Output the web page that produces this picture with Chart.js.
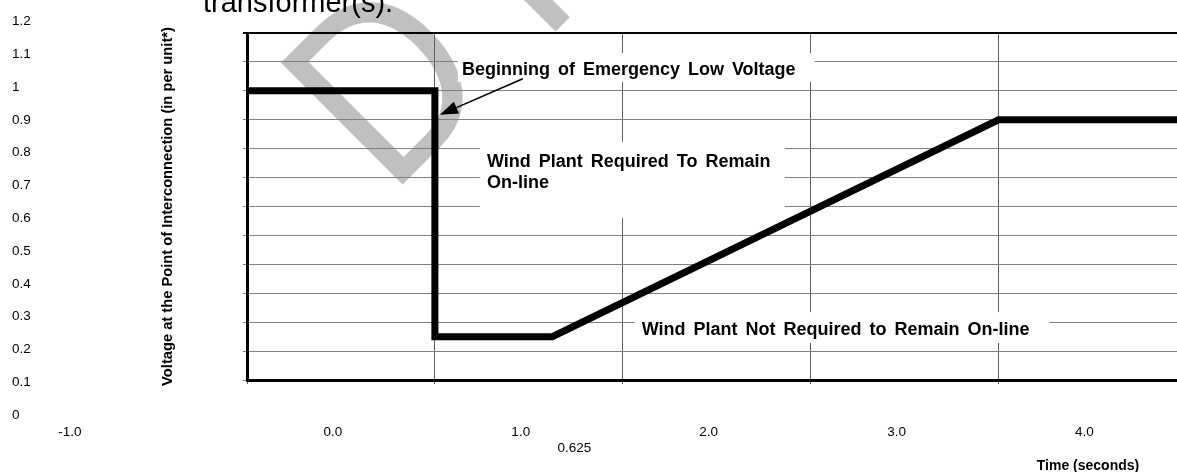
<!DOCTYPE html>
<html>
<head>
<meta charset="utf-8">
<script src="https://cdn.jsdelivr.net/npm/chart.js@4.4.0/dist/chart.umd.min.js"></script>
<style>
    html, body { margin: 0; padding: 0; background: #fff; }
    #wrap { width: 1177px; height: 472px; position: relative; }
</style>
</head>
<body>
<div id="wrap"><canvas id="lvrt-chart"></canvas></div>
<script>
(function () {
    'use strict';

    // corners of the low voltage ride-through curve
    var times = [-1, 0, 0, 0.625, 3, 3.95];
    var volts = [1.0, 1.0, 0.15, 0.15, 0.9, 0.9];

    // tick labels printed around the plot
    var xTickValues = [-1, 0, 1, 2, 3, 4];
    var xTickLabels = ['-1.0', '0.0', '1.0', '2.0', '3.0', '4.0'];
    var yTickValues = [0, 0.1, 0.2, 0.3, 0.4, 0.5, 0.6, 0.7, 0.8, 0.9, 1.0, 1.1, 1.2];
    var yTickLabels = ['0', '0.1', '0.2', '0.3', '0.4', '0.5', '0.6', '0.7', '0.8', '0.9', '1', '1.1', '1.2'];
    var extraTime = 0.625;
    var extraTimeLabel = '0.625';

    var FONT = '"Liberation Sans", Arial, sans-serif';

    var points = [];
    for (var i = 0; i < times.length; i++) {
        points.push({ x: times[i], y: volts[i] });
    }

    // text boxes on the plot, placed in axis units
    var notes = [
        { box: [0.122, 1.131, 2.021, 1.031], at: [0.144, 1.055], lines: ['Beginning of Emergency Low Voltage'] },
        { box: [0.239, 0.824, 1.862, 0.561], at: [0.277, 0.737], lines: ['Wind Plant Required To Remain', 'On-line'] },
        { box: [1.064, 0.235, 3.271, 0.128], at: [1.101, 0.156], lines: ['Wind Plant Not Required to Remain On-line'] }
    ];
    var arrow = { from: [0.468, 1.042], to: [0.027, 0.917] };

    var decor = {
        id: 'decor',
        beforeDraw: function (chart) {
            // faint DRAFT watermark behind the page
            var ctx = chart.ctx;
            ctx.save();
            ctx.translate(390, 197);
            ctx.rotate(-Math.PI / 4);
            ctx.scale(0.865, 1);
            ctx.fillStyle = '#c0c0c0';
            ctx.font = '250px ' + FONT;
            ctx.textBaseline = 'alphabetic';
            var x = 0;
            'DRAFT'.split('').forEach(function (ch) {
                ctx.fillText(ch, x, 0);
                x += ctx.measureText(ch).width + 69.5;
            });
            ctx.restore();

            // tail of the sentence above the figure
            ctx.save();
            ctx.fillStyle = '#000';
            ctx.font = '29px ' + FONT;
            ctx.textBaseline = 'alphabetic';
            ctx.fillText('transformer(s).', 203, 12);
            ctx.restore();
        },
        afterDatasetsDraw: function (chart) {
            var ctx = chart.ctx;
            var xs = chart.scales.x;
            var ys = chart.scales.y;

            ctx.save();
            notes.forEach(function (n) {
                var x0 = xs.getPixelForValue(n.box[0]);
                var y0 = ys.getPixelForValue(n.box[1]);
                var x1 = xs.getPixelForValue(n.box[2]);
                var y1 = ys.getPixelForValue(n.box[3]);
                ctx.fillStyle = '#fff';
                ctx.fillRect(x0, y0, x1 - x0, y1 - y0);
            });

            ctx.fillStyle = '#000';
            ctx.font = 'bold 18px ' + FONT;
            ctx.textBaseline = 'alphabetic';
            ctx.textAlign = 'left';
            try { ctx.wordSpacing = '3px'; } catch (e) {}
            notes.forEach(function (n) {
                var tx = xs.getPixelForValue(n.at[0]);
                var ty = ys.getPixelForValue(n.at[1]);
                n.lines.forEach(function (line, k) {
                    ctx.fillText(line, tx, ty + k * 21);
                });
            });
            try { ctx.wordSpacing = '0px'; } catch (e) {}

            // arrow to the start of the dip
            var ax = xs.getPixelForValue(arrow.from[0]);
            var ay = ys.getPixelForValue(arrow.from[1]);
            var bx = xs.getPixelForValue(arrow.to[0]);
            var by = ys.getPixelForValue(arrow.to[1]);
            var ang = Math.atan2(by - ay, bx - ax);
            var head = 18, half = 6.5;
            var hx = bx - head * Math.cos(ang);
            var hy = by - head * Math.sin(ang);
            ctx.strokeStyle = '#000';
            ctx.lineWidth = 1.6;
            ctx.beginPath();
            ctx.moveTo(ax, ay);
            ctx.lineTo(hx, hy);
            ctx.stroke();
            ctx.beginPath();
            ctx.moveTo(bx, by);
            ctx.lineTo(hx + half * Math.sin(ang), hy - half * Math.cos(ang));
            ctx.lineTo(hx - half * Math.sin(ang), hy + half * Math.cos(ang));
            ctx.closePath();
            ctx.fill();
            ctx.restore();
        },
        afterDraw: function (chart) {
            var ctx = chart.ctx;
            var xs = chart.scales.x;
            ctx.save();
            ctx.fillStyle = '#000';
            ctx.font = '13.5px ' + FONT;
            ctx.textBaseline = 'middle';

            // y labels sit on their own, slightly stretched, column
            var labTop = 21.5, labBottom = 415;
            ctx.textAlign = 'left';
            yTickValues.forEach(function (v, k) {
                var y = labBottom - (v / 1.2) * (labBottom - labTop);
                ctx.fillText(yTickLabels[k], 12, y);
            });

            // x labels are shifted left of their grid lines
            ctx.textAlign = 'center';
            xTickValues.forEach(function (v, k) {
                var x = k === 0 ? 70 : xs.getPixelForValue(v) - 102;
                ctx.fillText(xTickLabels[k], x, 432);
            });
            ctx.fillText(extraTimeLabel, xs.getPixelForValue(extraTime) + 22, 448);

            ctx.font = 'bold 14px ' + FONT;
            ctx.textBaseline = 'alphabetic';
            ctx.fillText('Time (seconds)', 1088, 470);
            ctx.restore();
        }
    };

    var ctx = document.getElementById('lvrt-chart').getContext('2d');
    window.lvrtChart = new Chart(ctx, {
        type: 'line',
        data: {
            datasets: [{
                data: points,
                borderColor: '#000',
                borderWidth: 7,
                borderJoinStyle: 'miter',
                borderCapStyle: 'butt',
                pointRadius: 0,
                tension: 0,
                fill: false
            }]
        },
        options: {
            responsive: true,
            maintainAspectRatio: false,
            animation: false,
            layout: { padding: { left: 0, top: 33, right: 0, bottom: 88 } },
            plugins: {
                legend: { display: false },
                tooltip: { enabled: false }
            },
            scales: {
                x: {
                    type: 'linear',
                    min: -1,
                    max: 3.95,
                    ticks: { stepSize: 1, display: false, includeBounds: false },
                    grid: { color: '#606060', lineWidth: 1, tickLength: 4 },
                    border: { color: '#000', width: 3 },
                    afterFit: function (s) { s.height = 4; }
                },
                y: {
                    type: 'linear',
                    min: 0,
                    max: 1.2,
                    ticks: { stepSize: 0.1, display: false },
                    grid: {
                        tickLength: 4,
                        color: function (c) {
                            return c.tick && Math.abs(c.tick.value - 1.2) < 1e-6 ? '#000' : '#808080';
                        },
                        lineWidth: function (c) {
                            return c.tick && Math.abs(c.tick.value - 1.2) < 1e-6 ? 2 : 1;
                        }
                    },
                    border: { color: '#000', width: 3 },
                    title: {
                        display: true,
                        text: 'Voltage at the Point of Interconnection (in per unit*)',
                        color: '#000',
                        font: { family: FONT, size: 14.7, weight: 'bold' },
                        padding: { top: 159, bottom: 0 }
                    },
                    afterFit: function (s) { s.width = 247; }
                }
            }
        },
        plugins: [decor]
    });
})();
</script>
</body>
</html>
